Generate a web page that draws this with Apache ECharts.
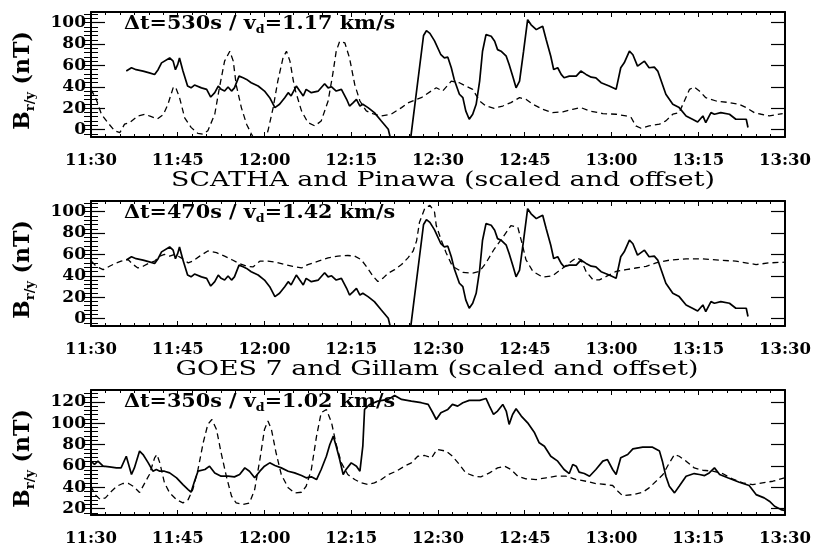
<!DOCTYPE html>
<html><head><meta charset="utf-8">
<script src="https://cdn.jsdelivr.net/npm/echarts@6/dist/echarts.min.js"></script>
<style>html,body{margin:0;padding:0;background:#fff}#c{width:814px;height:548px}</style>
</head><body><div id="c"></div>
<script>
// ---- tick labels / text ----
const timeTickLabels = ['11:30','11:45','12:00','12:15','12:30','12:45','13:00','13:15','13:30'];
const panelTitles = ['SCATHA and Pinawa (scaled and offset)', 'GOES 7 and Gillam (scaled and offset)'];
const delayTexts = ['530s', '470s', '350s'];
const speedTexts = ['1.17', '1.42', '1.02'];
const yMajorTop = [0, 20, 40, 60, 80, 100];
const yMinorTop = [-4,0,4,8,12,16,20,24,28,32,36,40,44,48,52,56,60,64,68,72,76,80,84,88,92,96,100,104,108];
const yMajorBottom = [20, 40, 60, 80, 100, 120];
const yMinorBottom = [16,20,24,28,32,36,40,44,48,52,56,60,64,68,72,76,80,84,88,92,96,100,104,108,112,116,120,124,128];

// ---- data: [minutes after 11:30, B (nT)] ----
const scathaB = [[6.1,54.7],[6.4,53],[7.0,57.8],[7.8,56],[9.0,54.7],[10.1,53],[11.0,51.5],[11.6,56],[12.2,62.4],[13.6,67],[14.2,64],[14.6,56],[15.0,61],[15.3,67],[15.9,54.7],[16.7,40.7],[17.3,39],[17.9,41.6],[19.1,39],[20.0,37.6],[20.7,30.4],[21.4,34.5],[22.0,40.7],[22.5,37.6],[23.1,36],[23.7,39.8],[24.3,36],[24.8,39],[25.6,50],[26.3,48.4],[26.9,46.9],[27.7,43.8],[28.9,40.7],[30.0,36],[30.9,29.8],[31.8,20.5],[32.6,23.6],[33.5,29.8],[34.1,34.5],[34.6,31.4],[35.5,40.7],[36.1,36],[36.7,31.4],[37.2,37.6],[38.1,34.5],[39.3,36],[40.4,42.9],[41.0,39],[41.6,40],[42.4,36],[43.3,37.6],[44.2,28.3],[44.7,22],[45.3,25],[45.9,28.3],[46.5,22],[47.0,23.6],[47.9,20.5],[49.0,15.8],[50.2,8],[51.4,0.3],[52.3,-20],[55.0,-20],[57.5,88],[58.0,92.5],[58.6,90],[59.4,83],[60.5,70],[61.1,67],[61.7,67.7],[62.3,57.8],[62.8,46.9],[63.7,33],[64.3,29.8],[64.8,17.4],[65.4,9.6],[66.0,14.3],[66.6,23.6],[67.2,45.3],[67.7,73.3],[68.3,88.8],[69.2,87.3],[69.8,82.6],[70.3,74.8],[70.9,73.3],[71.8,68.6],[72.3,60.9],[73.0,48.4],[73.5,39],[74.1,45.3],[74.8,73.3],[75.5,102.8],[76.1,98],[77.0,93.5],[77.5,95],[78.1,96.6],[78.7,84.2],[79.5,68.6],[80.0,56.2],[80.7,57.8],[81.3,51.6],[81.8,48.4],[82.7,50],[83.9,50],[84.7,54.7],[85.6,51.6],[86.5,49],[87.3,48.4],[88.2,43.8],[89.6,40.7],[90.8,37.6],[91.6,57.8],[92.2,62.4],[93.1,73.3],[93.7,70],[94.5,59.3],[95.7,64],[96.5,57.8],[97.4,58.4],[98.0,54.7],[99.4,33],[100.6,23.6],[101.7,20.5],[102.9,12.7],[104.0,9.6],[104.9,7],[105.8,12.7],[106.3,6.5],[107.2,15.8],[107.8,14.3],[108.9,15.8],[110.4,14.3],[111.5,9.6],[113.3,9.6],[113.6,1.9]];

const pinawaB1 = [[0.0,37.6],[0.9,28.3],[1.8,14.3],[2.9,6.5],[4.1,-1.2],[5.0,-2.8],[5.8,5],[6.7,6.5],[8.1,12.7],[9.3,14.3],[10.1,12.7],[11.5,10],[12.5,14],[13.3,23.6],[14.2,39],[14.6,40],[15.3,30],[16.2,11],[17.3,2],[18.5,-3.7],[19.4,-4.3],[20.2,-1.2],[21.4,14.3],[22.2,39],[23.1,64],[24.0,73.3],[24.6,64],[25.1,42],[26.0,20.5],[26.9,5],[27.7,-3.7],[28.5,-12],[30.0,-12],[30.6,-1.2],[31.5,20.5],[32.3,45.3],[33.2,67],[33.8,73.3],[34.4,64],[35.2,39],[36.4,17.4],[37.5,6.5],[38.7,3.4],[39.8,8],[41.0,26.7],[41.8,51.6],[42.4,73.3],[43.0,82.6],[43.9,81],[44.7,67],[45.6,42.2],[46.5,26.7],[47.6,17.4],[49.0,14.3],[50.2,12.7],[51.9,14.3],[53.7,20.5],[54.8,25],[56.3,28.3],[57.1,29.8],[58.8,36],[59.7,39.1],[60.8,36.0],[62.3,45.3],[63.7,43.8],[64.8,40.7],[66.0,37.6],[67.2,26.7],[68.3,22.0],[69.7,19.9],[71.2,22.0],[72.6,25.2],[74.1,29.8],[75.2,28.3],[76.4,23.6],[78.1,18.9],[79.8,15.8],[81.6,16.5],[83.3,18.9],[84.7,20.5],[86.2,17.4],[88.5,14.9],[90.8,14.3],[92.5,12.7],[93.4,11.2],[94.2,3.4],[95.1,1.2],[96.5,3.4],[98.3,5.0],[99.4,8.1],[100.6,14.3],[101.7,15.8],[102.6,26.7],[103.5,37.6],[104.3,39.8],[105.2,36.0],[106.3,29.8],[108.1,26.7],[110.4,25.2],[112.1,23.6],[113.3,20.5],[114.7,15.8],[115.9,14.3],[117.3,12.7],[119.6,14.9]];

const pinawaB2 = [[0.06,53.7],[0.9,48.9],[2.1,45.7],[3.2,48.9],[4.4,52.1],[5.2,53.7],[6.4,55.2],[7.3,50.5],[8.1,47.3],[9.0,48.9],[10.1,52.1],[11.0,53.7],[11.9,58.4],[12.7,60],[13.6,58.4],[14.5,60],[15.6,56.8],[16.8,52.1],[17.6,53.7],[18.8,58.4],[20.2,63.2],[21.7,61.6],[23.1,58.4],[24.3,55.2],[25.4,52.1],[26.9,48.9],[28.0,48.3],[29.2,53.7],[30.6,53.7],[32.0,52.7],[33.5,50.5],[34.9,48.9],[36.4,47.3],[37.5,50.5],[39.3,53.7],[41.0,56.8],[42.7,58.4],[44.4,59],[45.6,58.4],[46.7,55.2],[47.6,48.9],[48.8,39.4],[49.6,34.6],[50.5,37.8],[51.4,42.5],[52.5,45.7],[53.7,50.5],[54.8,56.8],[55.7,63.2],[56.3,72.7],[56.8,90.2],[57.7,102.9],[58.6,106],[59.4,99.7],[59.7,87],[60.5,74.3],[61.4,61.6],[62.5,48.9],[64.3,43.2],[66.0,42.5],[67.2,44.1],[68.3,52.1],[69.7,64.8],[71.2,75.9],[72.6,87],[73.8,85.4],[74.5,71.1],[75.2,55.2],[76.4,44.1],[78.1,38.7],[79.8,40],[81.6,47.3],[82.7,52.1],[83.9,56.8],[84.7,55.2],[85.6,44.1],[86.8,36.2],[87.9,36.2],[89.1,39.4],[90.8,44.1],[92.5,45.7],[94.2,47.3],[96.0,48.9],[97.7,52.1],[100.0,54.6],[102.9,55.9],[105.8,55.9],[108.7,54.6],[111.5,53.7],[115.0,50.5],[117.3,52.1],[119.9,52.7]];

const goesB = [[0,64.4],[0.6,61.3],[1.2,64.4],[2.1,59.7],[3.2,59.1],[4.4,58.1],[5.2,58.1],[6.1,69],[7.0,51.9],[7.5,58.1],[8.4,73.8],[9.0,70.6],[9.9,62.8],[10.7,55],[11.3,56.6],[11.9,55],[12.7,55],[13.6,53.4],[14.8,48.8],[15.9,42.5],[16.8,37.8],[17.3,35.3],[17.9,45.6],[18.5,55],[19.7,56.6],[20.5,59.7],[21.4,53.4],[22.5,50.3],[23.7,50.3],[24.8,49.7],[25.7,51.9],[26.6,58.1],[27.4,55],[28.3,48.8],[29.2,55],[30.0,59.7],[30.9,62.8],[31.8,60.3],[32.9,58.1],[34.1,55],[35.2,53.4],[36.4,50.9],[37.2,48.8],[38.1,49.7],[39.0,47.2],[39.8,56.6],[40.7,69],[41.3,80],[41.9,87.8],[42.4,78.4],[43.0,65.9],[43.6,51.9],[44.1,56.6],[45.0,62.8],[45.9,59.7],[46.5,55],[47.0,78.4],[47.3,112.8],[48.2,117.5],[49.6,120.6],[51.4,122.2],[52.5,125.9],[53.7,122.2],[55.4,120.6],[57.1,119.1],[58.3,117.5],[59.1,109.7],[59.7,103.4],[60.5,109.7],[61.7,112.8],[62.5,117.5],[63.4,115.9],[64.3,119.1],[65.4,121.3],[67.2,121.3],[68.3,123.1],[68.9,115.9],[69.6,108.1],[70.3,111.3],[71.2,117.5],[71.8,111.3],[72.3,98.8],[72.9,108.1],[73.5,113.4],[74.4,106.6],[75.5,100.3],[76.7,90.9],[77.5,81.6],[78.4,78.4],[79.5,69],[80.7,64.4],[81.8,56.6],[82.7,52.8],[83.3,61.3],[83.9,59.7],[84.4,54.1],[85.3,52.8],[86.2,50.3],[87.3,56.6],[88.5,64.4],[89.3,65.9],[90.2,56.6],[90.8,51.9],[91.6,67.5],[92.8,70.6],[93.7,75.9],[95.4,77.5],[97.1,77.5],[98.3,73.8],[98.8,64.4],[99.4,50.3],[100.0,40.9],[100.9,34.7],[101.7,40.9],[102.9,50.3],[104.3,52.8],[105.2,51.9],[106.1,50.9],[106.9,53.4],[107.8,58.1],[108.7,51.9],[110.1,48.8],[112.1,44.7],[113.8,41.6],[115.0,33.1],[116.4,30],[117.3,26.9],[118.2,22.2],[119.3,19.1],[119.9,18.4]];

const gillamB = [[0.0,41],[0.7,33],[1.6,28.5],[2.5,30],[3.5,36],[4.5,41],[5.5,43.5],[6.5,43.5],[7.4,40.5],[8.4,35],[10.1,51.9],[11.0,67.5],[11.4,70.6],[11.9,62.8],[12.7,44.1],[13.6,34.7],[14.8,28.4],[15.9,25.3],[16.8,28.4],[17.6,37.8],[18.5,56.6],[19.4,81.6],[20.2,98.8],[20.9,103.4],[21.7,94.1],[22.5,72.2],[23.4,50.3],[24.3,31.6],[25.1,25.3],[26.3,23.8],[27.4,25.3],[28.3,37.8],[29.2,65.9],[30.0,94.1],[30.6,101.9],[31.2,94.1],[32.0,72.2],[32.9,51.9],[34.1,39.4],[35.2,34.7],[36.4,35.3],[37.2,40.9],[38.1,56.6],[39.0,87.8],[39.8,109.7],[40.7,112.8],[41.6,100.3],[42.4,80],[43.3,62.8],[44.4,51.9],[45.6,47.2],[46.7,44.1],[47.9,42.5],[49.0,44.1],[50.2,47.2],[51.4,51.9],[52.8,55],[54.2,59.7],[55.4,62.8],[56.5,69],[57.7,69.7],[58.9,67.5],[59.8,75.3],[61.4,73.8],[62.5,69],[63.7,61.3],[64.8,53.4],[66.3,50.3],[67.4,49.7],[68.9,53.4],[70.3,58.1],[71.5,59.7],[72.6,56.6],[73.8,50.3],[75.2,47.8],[77.0,47.2],[78.7,48.8],[80.4,50.3],[82.1,50.3],[83.9,47.2],[85.6,45.6],[87.3,43.4],[89.1,42.5],[90.2,41.6],[91.1,36.3],[91.9,32.2],[93.7,33.1],[95.4,35.3],[96.5,39.4],[97.7,45.6],[98.9,51.9],[100.0,62.8],[100.9,70.6],[101.7,69],[102.9,64.4],[104.3,58.1],[105.8,55.9],[107.5,55],[109.2,52.8],[110.9,47.8],[112.7,44.1],[114.4,42.5],[116.1,44.1],[117.9,45.6],[119.9,48.8]];

// ---- layout ----
const FONT = 'DejaVu Serif';
const PLOT_LEFT = 91, PLOT_W = 694, PLOT_H = 125;
const panelTops = [12, 201, 390];
const panels = [
  {solid: scathaB, dashed: pinawaB1, range: [-7, 110], major: yMajorTop, minor: yMinorTop},
  {solid: scathaB, dashed: pinawaB2, range: [-7, 110], major: yMajorTop, minor: yMinorTop},
  {solid: goesB, dashed: gillamB, range: [14, 131], major: yMajorBottom, minor: yMinorBottom}
];

const black = '#000';
const grid = [], xAxis = [], yAxis = [], series = [], graphic = [];

panels.forEach((p, i) => {
  grid.push({left: PLOT_LEFT, top: panelTops[i], width: PLOT_W, height: PLOT_H, containLabel: false});
  const xBase = {
    type: 'value', gridIndex: i, min: 0, max: 120, interval: 15,
    axisLine: {show: true, onZero: false, lineStyle: {color: black, width: 2}},
    axisTick: {show: true, inside: true, length: 5, lineStyle: {color: black, width: 1}},
    minorTick: {show: true, splitNumber: 6, length: 3, lineStyle: {color: black, width: 1}},
    splitLine: {show: false}, minorSplitLine: {show: false}
  };
  xAxis.push(Object.assign({}, xBase, {
    position: 'bottom',
    axisLabel: {show: true, margin: 15, color: black, fontFamily: FONT, fontWeight: 'bold', fontSize: 16.5,
      showMinLabel: true, showMaxLabel: true, hideOverlap: false,
      formatter: v => timeTickLabels[Math.round(v / 15)]}
  }));
  xAxis.push(Object.assign({}, xBase, {position: 'top', axisLabel: {show: false}}));

  const yBase = {
    type: 'value', gridIndex: i, min: p.range[0], max: p.range[1],
    splitLine: {show: false}, scale: true
  };
  yAxis.push(Object.assign({}, yBase, {
    position: 'left',
    axisLine: {show: true, onZero: false, lineStyle: {color: black, width: 2}},
    axisTick: {show: true, inside: true, length: 14, customValues: p.major, lineStyle: {color: black, width: 1.2}},
    axisLabel: {show: true, customValues: p.major, margin: 5, color: black, fontFamily: FONT, fontWeight: 'bold', fontSize: 17}
  }));
  yAxis.push(Object.assign({}, yBase, {
    position: 'left',
    axisLine: {show: false},
    axisTick: {show: true, inside: true, length: 7, customValues: p.minor, lineStyle: {color: black, width: 1}},
    axisLabel: {show: false}
  }));
  yAxis.push(Object.assign({}, yBase, {
    position: 'right',
    axisLine: {show: true, onZero: false, lineStyle: {color: black, width: 2}},
    axisTick: {show: true, inside: true, length: 14, customValues: p.major, lineStyle: {color: black, width: 1.2}},
    axisLabel: {show: false}
  }));
  yAxis.push(Object.assign({}, yBase, {
    position: 'right',
    axisLine: {show: false},
    axisTick: {show: true, inside: true, length: 7, customValues: p.minor, lineStyle: {color: black, width: 1}},
    axisLabel: {show: false}
  }));

  series.push({
    type: 'line', xAxisIndex: 2 * i, yAxisIndex: 4 * i, data: p.solid, showSymbol: false, symbol: 'none',
    clip: true, lineStyle: {color: black, width: 1.7}, silent: true
  });
  series.push({
    type: 'line', xAxisIndex: 2 * i, yAxisIndex: 4 * i, data: p.dashed, showSymbol: false, symbol: 'none',
    clip: true, lineStyle: {color: black, width: 1.3, type: [6, 4]}, silent: true
  });

  // y axis name
  graphic.push({
    type: 'text', x: 23, y: panelTops[i] + PLOT_H / 2 + 6, rotation: Math.PI / 2,
    style: {
      text: '{b|B}{s|r/y}{b| (nT)}', align: 'center', verticalAlign: 'middle', fill: black,
      rich: {
        b: {fontFamily: FONT, fontWeight: 'bold', fontSize: 22, lineHeight: 28, fill: black},
        s: {fontFamily: FONT, fontWeight: 'bold', fontSize: 13, lineHeight: 13, verticalAlign: 'bottom', fill: black}
      }
    }
  });
  // annotation
  graphic.push({
    type: 'text', x: 124, y: panelTops[i] + 12, scaleX: 1.15,
    style: {
      text: '{b|\u0394t=' + delayTexts[i] + ' / v}{s|d}{b|=' + speedTexts[i] + ' km/s}',
      align: 'left', verticalAlign: 'middle', fill: black,
      rich: {
        b: {fontFamily: FONT, fontWeight: 'bold', fontSize: 18, lineHeight: 23, fill: black},
        s: {fontFamily: FONT, fontWeight: 'bold', fontSize: 11, lineHeight: 11, verticalAlign: 'bottom', fill: black}
      }
    }
  });
});

// panel titles between panels
const titleCenters = [[443, 181], [437, 370]];
titleCenters.forEach((c, k) => {
  graphic.push({
    type: 'text', x: c[0], y: c[1], scaleX: 1.28,
    style: {text: panelTitles[k], align: 'center', verticalAlign: 'middle', fill: black,
      fontFamily: FONT, fontWeight: 'normal', fontSize: 21}
  });
});

const chart = echarts.init(document.getElementById('c'), null, {renderer: 'canvas'});
chart.setOption({
  animation: false,
  backgroundColor: '#fff',
  grid, xAxis, yAxis, series, graphic
});
</script></body></html>
